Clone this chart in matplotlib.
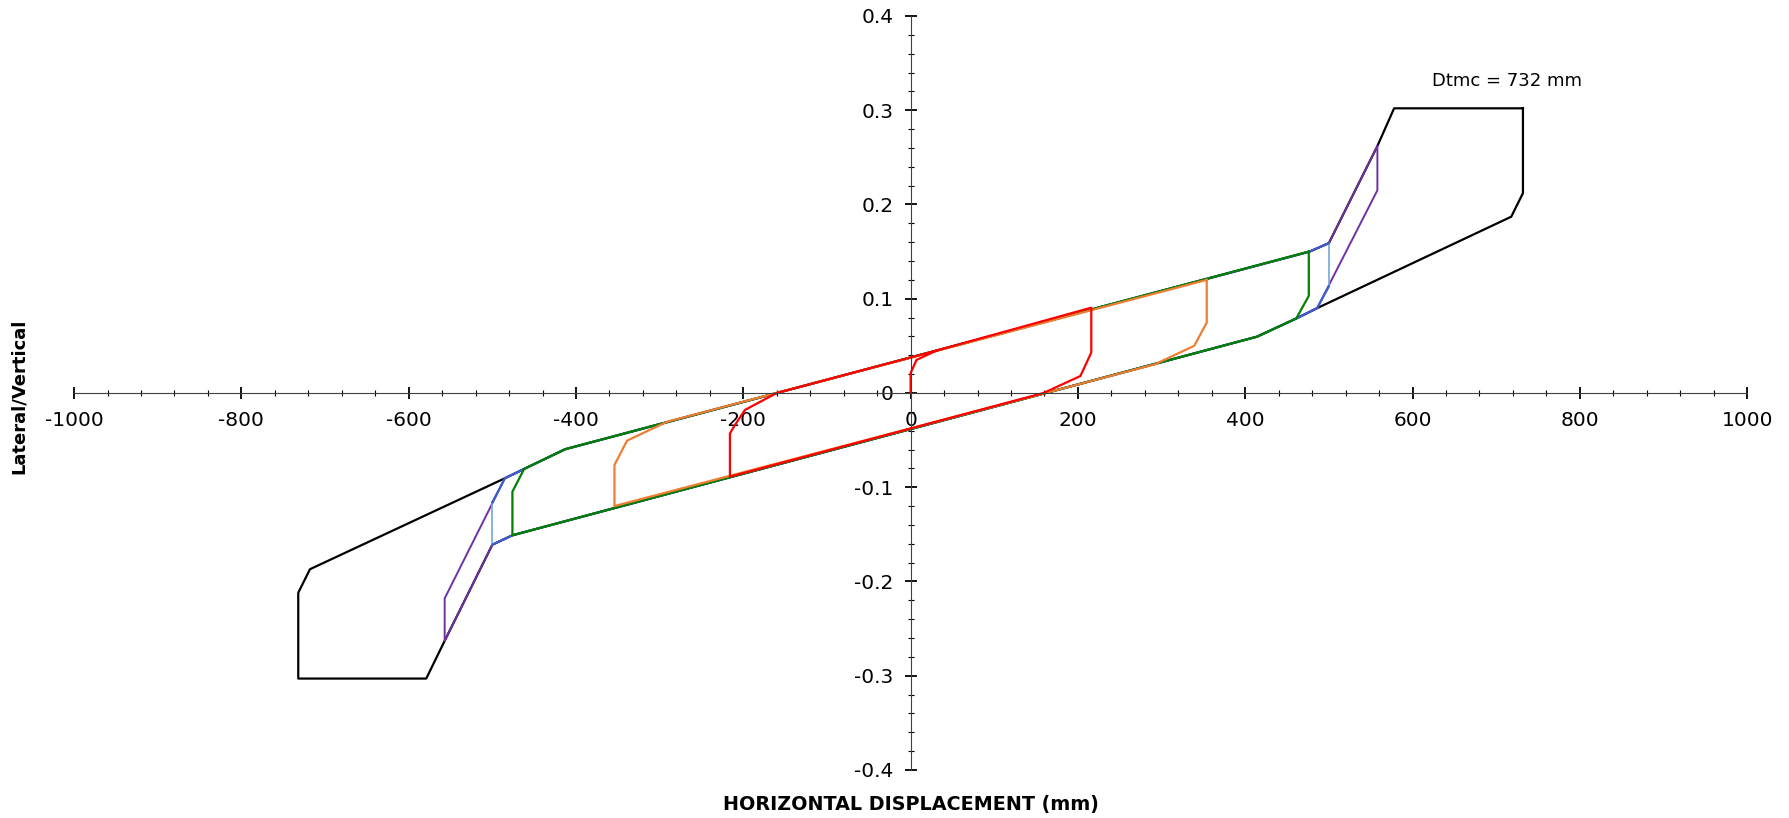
import numpy as np
import matplotlib
matplotlib.use("Agg")
import matplotlib.pyplot as plt
from matplotlib.ticker import MultipleLocator, FuncFormatter

plt.rcParams['font.family'] = ['DejaVu Sans']
plt.rcParams['axes.unicode_minus'] = False

# loops (displacement mm, lateral/vertical)
# outer loop at Dtmc
black_x = [732, 578, 558, 500, 477, -413, -462, -485, -718, -732, -732, -579, -557, -500, -476, 414, 461, 486, 718, 732, 732]
black_y = [0.302, 0.302, 0.262, 0.159, 0.150, -0.0597, -0.0806, -0.0905, -0.187, -0.212, -0.303, -0.303, -0.263, -0.161, -0.151, 0.0597, 0.079, 0.090, 0.187, 0.212, 0.302]

purple_x = [558, 558, 486, 461, 414, -476, -500, -557, -557, -485, -462, -413, 477, 500, 558]
purple_y = [0.262, 0.215, 0.090, 0.079, 0.0597, -0.151, -0.161, -0.263, -0.218, -0.0905, -0.0806, -0.0597, 0.150, 0.159, 0.262]

blue_x = [500, 486, 461, 414, -476, -500, np.nan, -500, -485, -462, -413, 477, 500]
blue_y = [0.113, 0.090, 0.079, 0.0597, -0.151, -0.161, np.nan, -0.116, -0.0905, -0.0806, -0.0597, 0.150, 0.159]

ltblue_x = [500, 500, np.nan, -500, -500]
ltblue_y = [0.159, 0.113, np.nan, -0.161, -0.116]

green_x = [476, 476, 461, 414, -476, -476, -462, -413, 476]
green_y = [0.150, 0.103, 0.079, 0.0597, -0.151, -0.1047, -0.0806, -0.0597, 0.150]

orange_x = [354, 354, 339, 292, -354, -354, -339, -291, 354]
orange_y = [0.120, 0.0746, 0.050, 0.0304, -0.120, -0.0764, -0.0506, -0.0305, 0.120]

red_x = [0, 0, 7, 31, 216, 216, 203, 159, -216, -216, -210, -198, -160, 31]
red_y = [0, 0.021, 0.035, 0.045, 0.0905, 0.043, 0.018, 0, -0.0888, -0.043, -0.034, -0.018, 0, 0.045]

fig = plt.figure(figsize=(17.89, 8.18), dpi=100)
ax = fig.add_axes([0.0414, 0.0587, 0.9352, 0.9218])

ax.plot(black_x, black_y, color='black', lw=1.6)
ax.plot(purple_x, purple_y, color='#7030A0', lw=1.4)
ax.plot(ltblue_x, ltblue_y, color='#6FA8DC', lw=1.2)
ax.plot(blue_x, blue_y, color='#3A5FCD', lw=1.6)
ax.plot(green_x, green_y, color='#008000', lw=1.6)
ax.plot(orange_x, orange_y, color='#ED7D31', lw=1.6)
ax.plot(red_x, red_y, color='#FF0000', lw=1.6)

ax.text(623, 0.331, 'Dtmc = 732 mm', fontsize=13, va='center', ha='left')

ax.set_xlim(-1000, 1000)
ax.set_ylim(-0.4, 0.4)

# axes through origin
for s in ['top', 'right']:
    ax.spines[s].set_visible(False)
ax.spines['left'].set_position(('data', 0))
ax.spines['bottom'].set_position(('data', 0))
ax.spines['left'].set_color('#404040')
ax.spines['bottom'].set_color('#404040')

ax.xaxis.set_major_locator(MultipleLocator(200))
ax.xaxis.set_minor_locator(MultipleLocator(40))
ax.yaxis.set_major_locator(MultipleLocator(0.1))
ax.yaxis.set_minor_locator(MultipleLocator(0.02))
ax.yaxis.set_major_formatter(FuncFormatter(lambda v, p: '%g' % round(v, 2)))
ax.xaxis.set_major_formatter(FuncFormatter(lambda v, p: '%g' % v))

ax.tick_params(which='major', direction='inout', length=8.5, width=1.3, labelsize=14.5)
ax.tick_params(which='minor', direction='inout', length=5, width=0.8)
ax.tick_params(axis='x', which='major', pad=9)
ax.tick_params(axis='y', which='major', pad=8)

fig.text(0.509, 0.017, 'HORIZONTAL DISPLACEMENT (mm)', fontsize=13.8, fontweight='bold',
         ha='center', va='center')
fig.text(0.0105, 0.515, 'Lateral/Vertical', fontsize=13, fontweight='bold',
         rotation=90, ha='center', va='center')

fig.savefig('out.png', dpi=100)
